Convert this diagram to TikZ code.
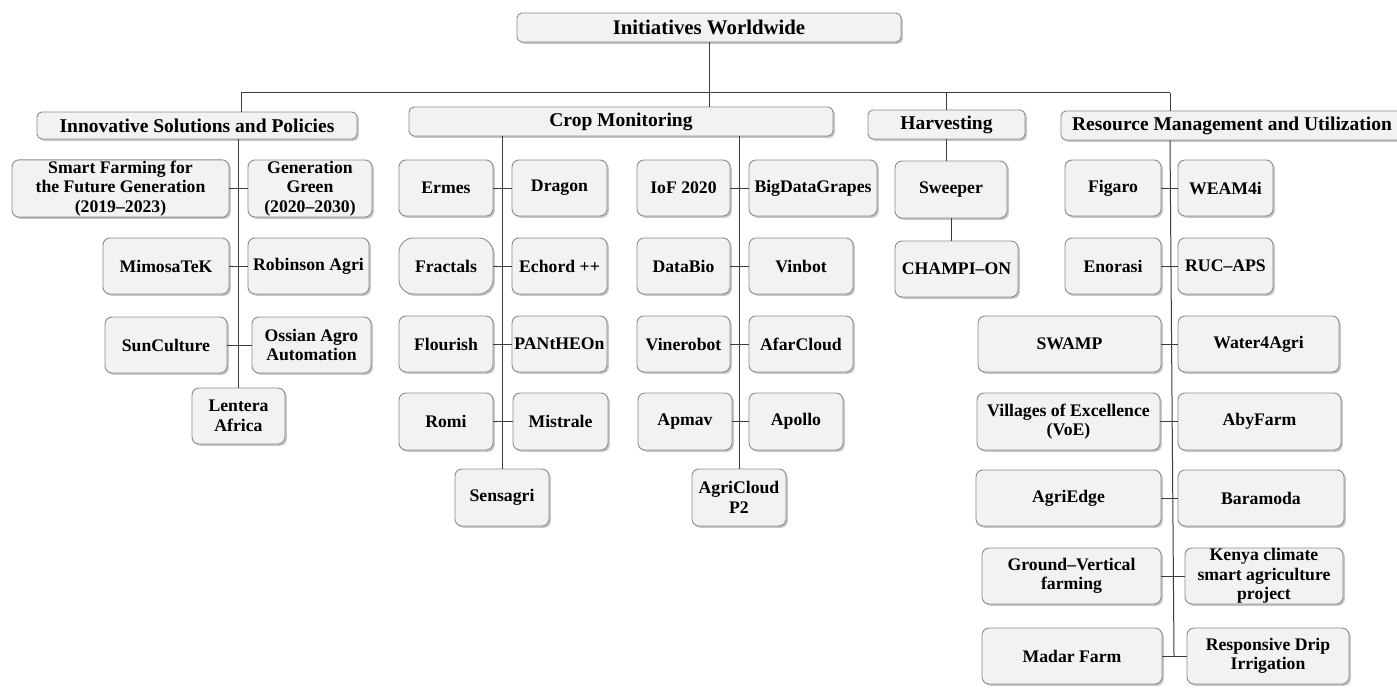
\documentclass[tikz,border=0pt]{standalone}
\usepackage{fontspec}
\setmainfont{Liberation Serif}
\usetikzlibrary{shadows}
\definecolor{boxfill}{HTML}{F2F2F2}
\definecolor{boxline}{HTML}{8C8C8C}
\definecolor{connline}{HTML}{3C3C3C}
\newcommand{\kidfont}{\fontsize{17.7}{19.5}\selectfont\bfseries}
\newcommand{\headfont}{\fontsize{19.5}{21}\selectfont\bfseries}
\newcommand{\topfont}{\fontsize{20.8}{22}\selectfont\bfseries}
\newcommand{\bx}[7][]{\node[box,#1,minimum width={(#5-#3)*1pt},minimum height={(#6-#4)*1pt}] (#2) at ({(#3+#5)/2},{(#4+#6)/2}) {#7};}
\begin{document}
\begin{tikzpicture}[x=1pt,y=-1pt,
  box/.style={draw=boxline, fill=boxfill, line width=0.9pt, rounded corners=7pt, align=center, inner sep=1pt, font=\kidfont,
    drop shadow={shadow xshift=1.8pt, shadow yshift=-1.8pt, fill=black!50, opacity=0.45}},
  head/.style={font=\headfont, rounded corners=5pt},
  conn/.style={draw=connline, line width=1pt}]
\fill[white] (0,0) rectangle (1397,698);
\useasboundingbox (0,0) rectangle (1397,698);
% headings
\bx[head,font=\topfont]{init}{517}{13}{901}{42}{Initiatives Worldwide}
\bx[head]{isp}{37}{112}{357}{139}{Innovative Solutions and Policies}
\bx[head]{cm}{409}{107}{833}{136}{Crop Monitoring}
\bx[head]{harv}{868}{110}{1025}{139}{Harvesting}
\bx[head]{rm}{1061}{111}{1403}{140}{Resource Management and Utilization}
% innovative solutions
\bx{sff}{12}{160}{229}{217}{Smart Farming for\\the Future Generation\\(2019--2023)}
\bx{gg}{248}{160}{372}{217}{Generation\\Green\\(2020--2030)}
\bx{mim}{103}{238}{229}{294}{MimosaTeK}
\bx{rob}{248}{238}{369}{294}{Robinson Agri}
\bx{sun}{105}{317}{227}{373}{SunCulture}
\bx{oss}{252}{317}{371}{373}{Ossian Agro\\Automation}
\bx{len}{192}{388}{285}{444}{Lentera\\Africa}
% crop monitoring left
\bx{erm}{399}{160}{493}{216}{Ermes}
\bx{dra}{512}{160}{607}{216}{Dragon}
\bx[rounded corners=14pt]{fra}{399}{238}{493}{294}{Fractals}
\bx{ech}{512}{238}{607}{294}{Echord ++}
\bx{flo}{399}{316}{493}{372}{Flourish}
\bx{pan}{512}{316}{607}{372}{PANtHEOn}
\bx{rom}{399}{393}{493}{450}{Romi}
\bx{mis}{513}{393}{608}{450}{Mistrale}
\bx{sen}{455}{469}{549}{526}{Sensagri}
% crop monitoring right
\bx{iof}{637}{160}{730}{216}{IoF 2020}
\bx{bdg}{749}{160}{877}{216}{BigDataGrapes}
\bx{dbio}{637}{238}{730}{294}{DataBio}
\bx{vinb}{749}{238}{853}{294}{Vinbot}
\bx{vinr}{637}{316}{730}{372}{Vinerobot}
\bx{afar}{749}{316}{853}{372}{AfarCloud}
\bx{apm}{638}{393}{732}{450}{Apmav}
\bx{apo}{749}{393}{843}{450}{Apollo}
\bx{agc}{692}{469}{786}{526}{AgriCloud\\P2}
% harvesting
\bx{swe}{895}{161}{1007}{218}{Sweeper}
\bx{cha}{895}{241}{1018}{297}{CHAMPI--ON}
% resource management
\bx{fig}{1065}{160}{1161}{216}{Figaro}
\bx{weam}{1178}{160}{1273}{216}{WEAM4i}
\bx{eno}{1065}{238}{1161}{294}{Enorasi}
\bx{ruc}{1178}{238}{1273}{294}{RUC--APS}
\bx{swamp}{978}{316}{1161}{372}{SWAMP}
\bx{w4a}{1178}{316}{1339}{372}{Water4Agri}
\bx{voe}{977}{393}{1160}{450}{Villages of Excellence\\(VoE)}
\bx{aby}{1178}{393}{1341}{450}{AbyFarm}
\bx{agre}{976}{470}{1161}{526}{AgriEdge}
\bx{bar}{1178}{470}{1344}{526}{Baramoda}
\bx{gvf}{982}{548}{1161}{604}{Ground--Vertical\\farming}
\bx[inner ysep=0pt]{ken}{1185}{548}{1343}{604}{Kenya climate\\smart agriculture\\project}
\bx{mad}{982}{628}{1162}{684}{Madar Farm}
\bx{rdi}{1187}{628}{1349}{684}{Responsive Drip\\Irrigation}
% top connectors
\coordinate (busl) at (241,93);
\coordinate (busr) at (1170,93);
\draw[conn] (busl) -- (busr);
\draw[conn] (busl) -- (busl |- isp.north);
\draw[conn] (init.south) -- (init.south |- cm.north);
\draw[conn] (harv.north |- busl) -- (harv.north);
\draw[conn] (busr) -- (busr |- rm.north);
% trunks
\draw[conn] (isp.south -| len.north) -- (len.north);
\draw[conn] (cm.south -| sen.north) -- (sen.north);
\draw[conn] (cm.south -| agc.north) -- (agc.north);
\draw[conn] (harv.south) -- (harv.south |- swe.north);
\draw[conn] (swe.south) -- (swe.south |- cha.north);
\coordinate (rmt) at (1170,140);
\coordinate (rmb) at (1174,656);
\draw[conn] (rmt |- rm.south) -- (rmb);
% pair connectors
\foreach \a/\b in {sff/gg, mim/rob, sun/oss, erm/dra, fra/ech, flo/pan, rom/mis, iof/bdg, dbio/vinb, vinr/afar, apm/apo, fig/weam, eno/ruc, swamp/w4a, voe/aby, agre/bar, gvf/ken, mad/rdi}
  \draw[conn] (\a.east) -- (\a.east -| \b.west);
\end{tikzpicture}
\end{document}
